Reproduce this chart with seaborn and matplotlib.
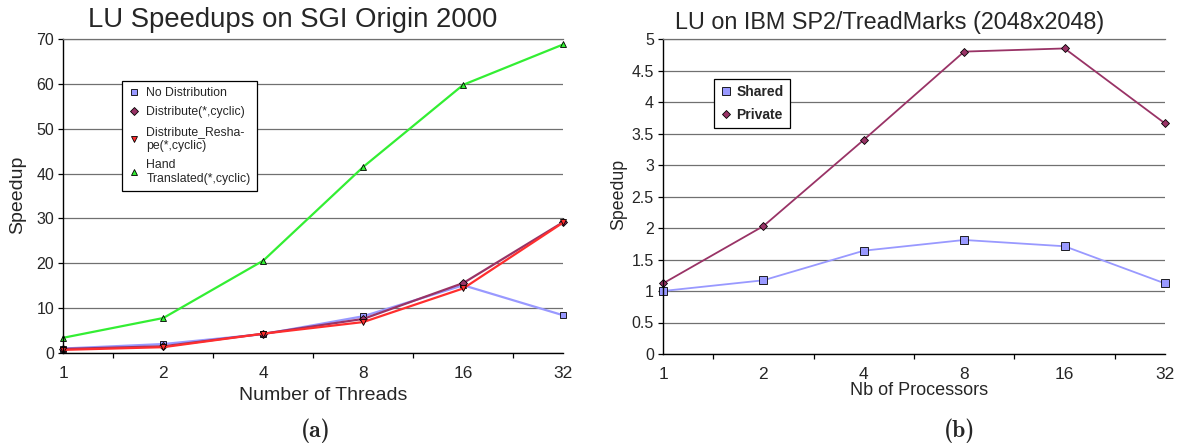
import numpy as np
import pandas as pd
import matplotlib
matplotlib.use("Agg")
import matplotlib.pyplot as plt
from matplotlib.lines import Line2D
from matplotlib.ticker import FixedLocator
import seaborn as sns

# ---------------- data ----------------
threads = ["1", "2", "4", "8", "16", "32"]
no_distribution = [1.0, 2.0, 4.2, 8.2, 15.1, 8.4]
distribute_cyclic = [0.9, 1.5, 4.3, 7.6, 15.6, 29.2]
distribute_reshape = [0.7, 1.3, 4.3, 6.9, 14.4, 29.1]
hand_translated = [3.4, 7.8, 20.6, 41.5, 59.8, 68.8]

left_series = ["No Distribution", "Distribute(*,cyclic)",
               "Distribute_Resha-\npe(*,cyclic)", "Hand\nTranslated(*,cyclic)"]
left_yticks = [0, 10, 20, 30, 40, 50, 60, 70]

processors = ["1", "2", "4", "8", "16", "32"]
shared = [1.0, 1.17, 1.64, 1.81, 1.71, 1.12]
private = [1.12, 2.03, 3.40, 4.80, 4.85, 3.66]
right_series = ["Shared", "Private"]
right_yticks = [0, 0.5, 1, 1.5, 2, 2.5, 3, 3.5, 4, 4.5, 5]
right_ytick_labels = ["0", "0.5", "1", "1.5", "2", "2.5", "3", "3.5", "4", "4.5", "5"]

# ---------------- style ----------------
sns.set_style("ticks")
plt.rcParams["font.family"] = ["Liberation Sans", "DejaVu Sans"]

W, H = 1179, 448
fig = plt.figure(figsize=(W / 100, H / 100), dpi=100)


def px_axes(x0, y_top, x1, y_bot):
    return fig.add_axes([x0 / W, 1 - y_bot / H, (x1 - x0) / W, (y_bot - y_top) / H])


ax1 = px_axes(63.3, 39, 563.3, 353)
ax2 = px_axes(663, 39, 1165, 354)

BLUE = "#9999FF"
PURPLE = "#993366"
RED = "#FF2E2E"
GREEN = "#33EE33"


def style_axes(ax, ncat, yticks, ylabels, ytick_size, xtick_size):
    ax.set_xlim(0, ncat - 1)
    ax.set_ylim(yticks[0], yticks[-1])
    ax.set_yticks(yticks)
    ax.set_yticklabels(ylabels, fontsize=ytick_size)
    ax.xaxis.set_major_locator(FixedLocator(np.arange(ncat)))
    ax.xaxis.set_minor_locator(FixedLocator(np.arange(ncat - 1) + 0.5))
    ax.tick_params(axis="x", which="major", length=0, pad=9.5, labelsize=xtick_size)
    ax.tick_params(axis="x", which="minor", length=3.6, width=0.9, direction="out", color="black")
    ax.tick_params(axis="y", which="major", length=3.6, width=0.9, direction="out",
                   pad=3.0, color="black")
    ax.grid(axis="y", color="#707070", linewidth=0.9)
    ax.set_axisbelow(True)
    ax.spines["right"].set_visible(False)
    ax.spines["top"].set_color("#707070")
    ax.spines["top"].set_linewidth(0.9)
    ax.spines["left"].set_color("black")
    ax.spines["bottom"].set_color("black")
    ax.spines["left"].set_linewidth(1.0)
    ax.spines["bottom"].set_linewidth(1.0)


# ---------------- left chart ----------------
pos = np.arange(len(threads))
left_data = [no_distribution, distribute_cyclic, distribute_reshape, hand_translated]
left_colors = [BLUE, PURPLE, RED, GREEN]
left_markers = ["s", "D", "v", "^"]
left_msize = [4.5, 3.8, 4.8, 4.8]
for vals, col, mk, ms in zip(left_data, left_colors, left_markers, left_msize):
    sns.lineplot(x=pos, y=vals, ax=ax1, color=col, linewidth=1.6, marker=mk,
                 markersize=ms, markeredgecolor="black", markeredgewidth=0.6,
                 markerfacecolor=col, legend=False, clip_on=False)

style_axes(ax1, len(threads), left_yticks, [str(v) for v in left_yticks], 11.5, 12.5)
ax1.set_xticklabels(threads)
ax1.set_xlabel("Number of Threads", fontsize=14)
ax1.set_ylabel("Speedup", fontsize=14)
ax1.xaxis.set_label_coords(0.52, -0.134)
ax1.xaxis.label.set_va("center")
ax1.yaxis.set_label_coords(-0.0906, 0.503)
ax1.yaxis.label.set_va("center")

handles1 = [Line2D([], [], linestyle="none", marker=mk, markersize=ms,
                   markerfacecolor=col, markeredgecolor="black", markeredgewidth=0.6)
            for col, mk, ms in zip(left_colors, left_markers, left_msize)]
leg1 = ax1.legend(handles1, left_series, loc="upper left",
                  bbox_to_anchor=(122 / W, 1 - 81 / H), bbox_transform=fig.transFigure,
                  borderaxespad=0, fontsize=8.8, frameon=True, fancybox=False,
                  handlelength=0.9, handletextpad=0.6, labelspacing=0.6,
                  borderpad=0.5, edgecolor="black", framealpha=1)
leg1.get_frame().set_linewidth(0.9)

# ---------------- right chart ----------------
pos2 = np.arange(len(processors))
sns.lineplot(x=pos2, y=shared, ax=ax2, color=BLUE, linewidth=1.3, marker="s",
             markersize=5.2, markeredgecolor="black", markeredgewidth=0.6,
             markerfacecolor=BLUE, legend=False, clip_on=False)
sns.lineplot(x=pos2, y=private, ax=ax2, color=PURPLE, linewidth=1.3, marker="D",
             markersize=3.6, markeredgecolor="black", markeredgewidth=0.6,
             markerfacecolor=PURPLE, legend=False, clip_on=False)

style_axes(ax2, len(processors), right_yticks, right_ytick_labels, 11.5, 12.5)
ax2.set_xticklabels(processors)
ax2.set_xlabel("Nb of Processors", fontsize=13)
ax2.set_ylabel("Speedup", fontsize=12.8)
ax2.xaxis.set_label_coords(0.51, -0.117)
ax2.xaxis.label.set_va("center")
ax2.yaxis.set_label_coords(-0.0876, 0.505)
ax2.yaxis.label.set_va("center")

handles2 = [Line2D([], [], linestyle="none", marker="s", markersize=5.5,
                   markerfacecolor=BLUE, markeredgecolor="black", markeredgewidth=0.6),
            Line2D([], [], linestyle="none", marker="D", markersize=4,
                   markerfacecolor=PURPLE, markeredgecolor="black", markeredgewidth=0.6)]
leg2 = ax2.legend(handles2, right_series, loc="upper left",
                  bbox_to_anchor=(714 / W, 1 - 79 / H), bbox_transform=fig.transFigure,
                  borderaxespad=0, prop={"size": 10, "weight": "bold"}, frameon=True,
                  fancybox=False, handlelength=0.8, handletextpad=0.35, labelspacing=0.6,
                  borderpad=0.45, edgecolor="black", framealpha=1)
leg2.get_frame().set_linewidth(0.9)

# ---------------- titles and captions ----------------
fig.text(292.6 / W, 1 - 20 / H, "LU Speedups on SGI Origin 2000", fontsize=19.8,
         ha="center", va="center")
fig.text(890 / W, 1 - 22 / H, "LU on IBM SP2/TreadMarks (2048x2048)", fontsize=16.8,
         ha="center", va="center")
fig.text(316 / W, 1 - 431 / H, "(a)", fontsize=17, family="cmb10",
         ha="center", va="center")
fig.text(960 / W, 1 - 431 / H, "(b)", fontsize=17, family="cmb10",
         ha="center", va="center")

fig.savefig("out.png", dpi=100)
